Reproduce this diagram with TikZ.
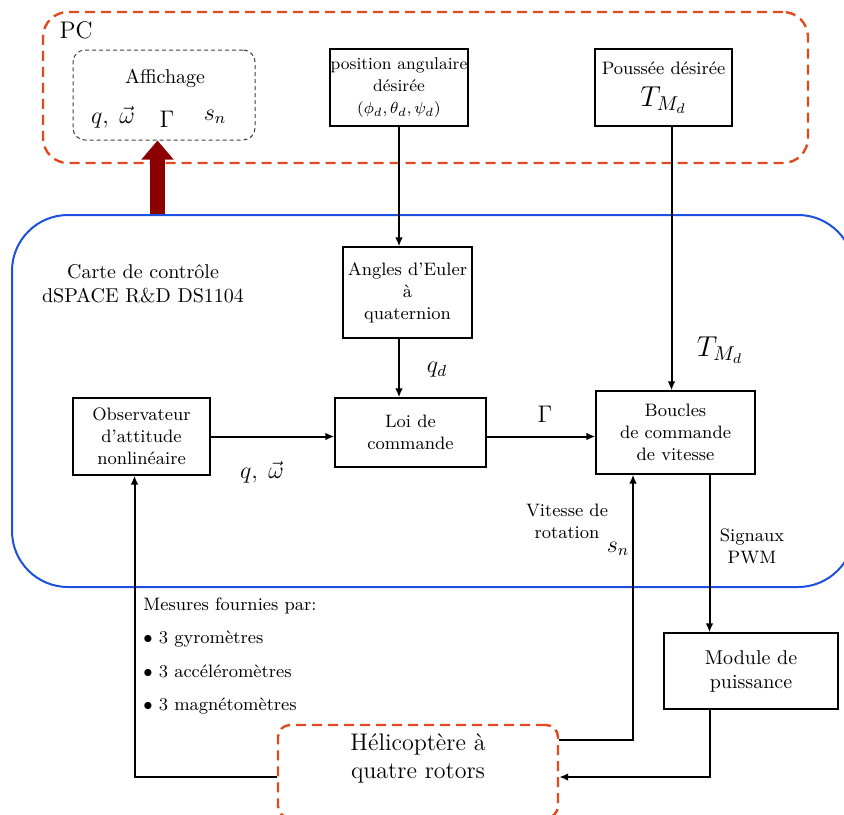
\documentclass[tikz,border=0pt]{standalone}
\usepackage{amsmath}
\usetikzlibrary{arrows.meta, positioning, calc}
\definecolor{PCRed}{RGB}{224,74,30}
\definecolor{CarteBlue}{RGB}{28,80,222}
\definecolor{ArrowRed}{RGB}{140,0,0}

\begin{document}
\begin{tikzpicture}[x=0.5pt, y=-0.5pt,
  bloc/.style={draw, line width=0.6pt, inner sep=0pt, align=center, font=\small},
  fleche/.style={-{Latex[length=4.5pt,width=3.8pt]}, line width=1pt},
  pcbox/.style={draw=PCRed, line width=1.2pt, dash pattern=on 5pt off 3pt, inner sep=0pt},
  grossefleche/.style={draw=ArrowRed, line width=7.5pt, -{Triangle[length=9.5pt,width=15.5pt]}}]
\useasboundingbox (0,0) rectangle (844,814);
\clip (0,0) rectangle (844,814);

% cadres
\node[pcbox, rounded corners=12.5pt, minimum width=382.5pt, minimum height=75.5pt] (pc) at (425.5,87.5) {};
\node[font=\large] (pclabel) at (76,30) {PC};
\node[draw=CarteBlue, line width=1pt, rounded corners=28pt, minimum width=421pt, minimum height=186pt] (carte) at (433,401) {};
\node[align=center] (cartelabel) at (143,284) {Carte de contrôle\\dSPACE R\&D DS1104};

% affichage
\node[draw=black!75, line width=0.5pt, dash pattern=on 2pt off 1.5pt, rounded corners=6pt, minimum width=91pt, minimum height=45pt] (aff) at (164,95) {};
\node (afftxt) at (165,78) {Affichage};
\node[font=\large] (affq) at (113,117) {$q,\;\vec{\omega}$};
\node[font=\large] (affg) at (167,119) {$\Gamma$};
\node[font=\large] (affs) at (215,117) {$s_n$};

% blocs
\node[bloc, font=\fontsize{8.5}{11}\selectfont, minimum width=69pt, minimum height=38.5pt] (posang) at (399,87.5) {position angulaire\\désirée\\$(\phi_d,\theta_d,\psi_d)$};
\node[bloc, minimum width=68.5pt, minimum height=38.5pt] (poussee) at (663.5,87.5) {Poussée désirée\\[5pt]{\Large $T_{M_d}$}};
\node[bloc, minimum width=64.5pt, minimum height=45.5pt] (euler) at (407.5,292.5) {Angles d'Euler\\à\\quaternion};
\node[bloc, minimum width=75.5pt, minimum height=34.5pt] (loi) at (410.5,432.5) {Loi de\\commande};
\node[bloc, minimum width=68.5pt, minimum height=38.5pt] (obs) at (141.5,436.5) {Observateur\\d'attitude\\nonlinéaire};
\node[bloc, minimum width=79.5pt, minimum height=41.5pt] (boucles) at (675.5,432.5) {Boucles\\de commande\\de vitesse};
\node[bloc, font=\normalsize, minimum width=87pt, minimum height=38pt] (module) at (751,671) {Module de\\puissance};
\node[pcbox, rounded corners=6pt, minimum width=140pt, minimum height=46.5pt] (helico) at (418,771.5) {};
\node[align=center, font=\large] (helicotxt) at (418,758) {Hélicoptère à\\quatre rotors};

% mesures
\node[anchor=west, inner sep=0pt, align=left, font=\small] (mesures) at (143,656)
  {Mesures fournies par:\\[5.8pt]$\bullet$\ 3 gyromètres\\[5.8pt]$\bullet$\ 3 accéléromètres\\[5.8pt]$\bullet$\ 3 magnétomètres};

% points de passage
\coordinate (hautfleche) at ($(aff.south)+(-6.5,0)$);
\coordinate (basfleche) at (hautfleche |- carte.north);
\coordinate (pous) at ($(poussee.south)+(8,0)$);
\coordinate (pwm) at ($(boucles.south)+(34,0)$);
\coordinate (puis) at ($(module.south)+(-41,0)$);
\coordinate (vit) at ($(boucles.south)+(-42.5,0)$);
\coordinate (mes) at ($(obs.south)+(-7,0)$);
\coordinate (hin) at ($(helico.east)+(0,5.5)$);
\coordinate (hout) at ($(helico.east)+(0,-31.5)$);
\coordinate (hleft) at ($(helico.west)+(0,5.5)$);

% liaisons
\draw[grossefleche] (basfleche) -- (hautfleche);
\draw[fleche] (posang.south) -- (posang.south |- euler.north);
\draw[fleche] (euler.south -| posang.south) -- (loi.north -| posang.south);
\draw[fleche] (obs.east) -- (obs.east -| loi.west);
\draw[fleche] (loi.east |- obs.east) -- (obs.east -| boucles.west);
\draw[fleche] (pous) -- (pous |- boucles.north);
\draw[fleche] (pwm) -- (pwm |- module.north);
\draw[fleche] (puis) |- (hin);
\draw[fleche] (hout) -| (vit);
\draw[fleche] (hleft) -| (mes);

% etiquettes
\node[font=\large] (qd) at (437,370) {$q_d$};
\node[font=\large] (qw) at (262,472) {$q,\;\vec{\omega}$};
\node[font=\large] (gam) at (545,414) {$\Gamma$};
\node[font=\Large] (tmd) at (720,350) {$T_{M_d}$};
\node[align=center, font=\small] (signaux) at (752,546) {Signaux\\PWM};
\node[align=center, font=\small] (vitesse) at (567,521) {Vitesse de\\rotation};
\node[font=\large] (sn) at (618,549) {$s_n$};
\end{tikzpicture}
\end{document}
